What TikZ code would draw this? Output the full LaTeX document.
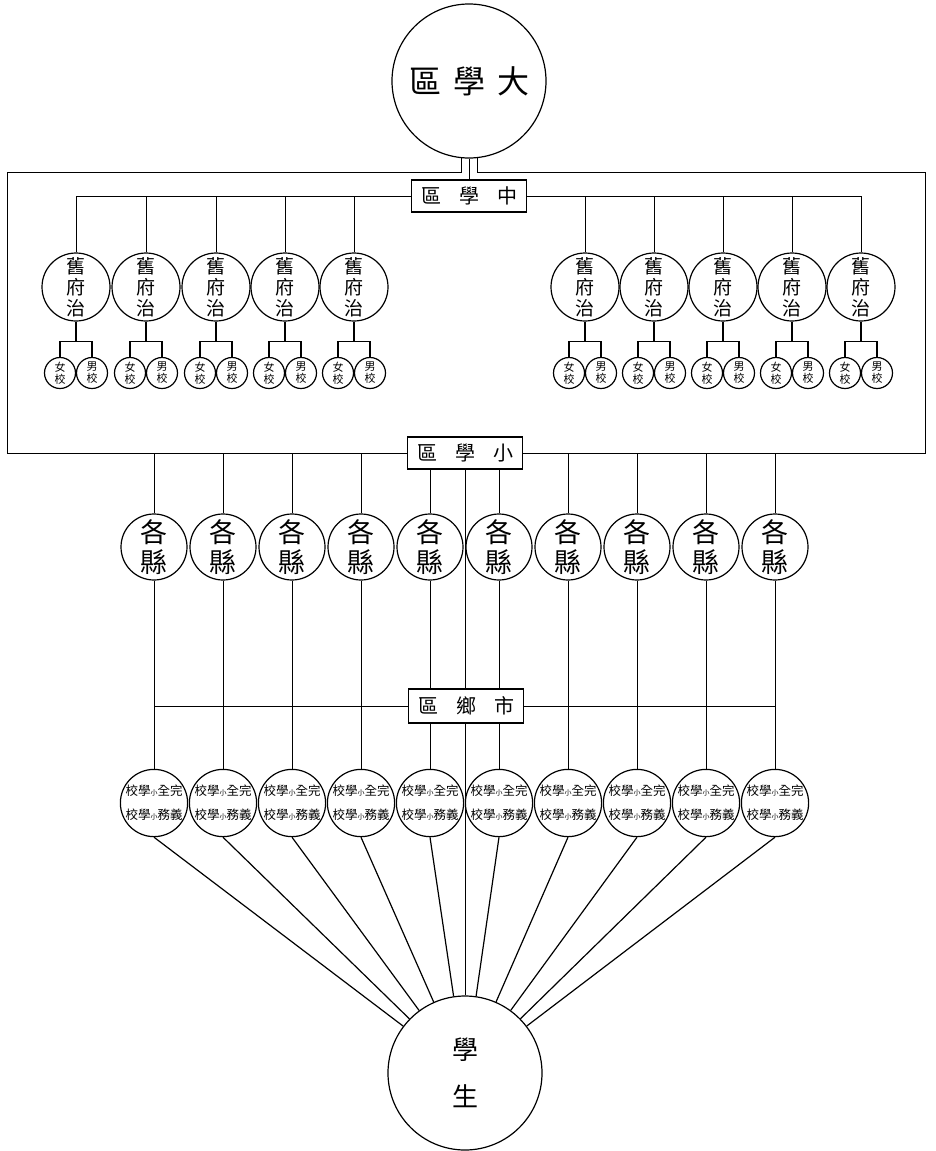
\documentclass[tikz,border=0pt]{standalone}
\usepackage{fontspec}
\setmainfont{Noto Sans CJK TC}
\usetikzlibrary{calc, backgrounds}

\newcommand{\gap}[1]{\hspace{#1pt}}
\newcommand{\smallxiao}{{\fontsize{7}{7}\selectfont 小}}

\begin{document}
\begin{tikzpicture}[x=1pt, y=-1pt, line width=1.2pt]
\useasboundingbox (0,0) rectangle (935,1151);

% node styles
\tikzset{ring/.style={circle, draw, fill=white, inner sep=0pt, align=center},
         bigring/.style={ring, minimum size=154pt},
         furing/.style={ring, minimum size=68pt, font=\fontsize{19}{21}\selectfont},
         schring/.style={ring, minimum size=31pt, font=\fontsize{11}{12}\selectfont},
         xianring/.style={ring, minimum size=66pt, font=\fontsize{27}{30}\selectfont},
         xuering/.style={ring, minimum size=66pt, font=\fontsize{12.5}{24}\selectfont},
         namebox/.style={draw, fill=white, minimum width=115pt, minimum height=32pt,
                         inner sep=0pt, font=\fontsize{20}{20}\selectfont}}

% ---- university
\node[bigring, font=\fontsize{32}{32}\selectfont] (daxue) at (469,81) {區\gap{12}學\gap{12}大};
\node[namebox] (zhong) at (469,196) {區\gap{18}學\gap{18}中};

% ===== middle schools: ten prefectures, girls' and boys' schools
\foreach \x [count=\i] in {76,146,216,285,354,585,654,723,792,861} {
  \node[furing] (fu\i) at (\x,287) {舊\\府\\治};
  \node[schring] (nv\i) at (\x-16,373) {女\\校};
  \node[schring] (nan\i) at (\x+16,373) {男\\校};
  \coordinate (fork\i) at ($(fu\i.south)+(0,20)$);
  \draw (fu\i.south) -- (fork\i);
  \draw (nv\i.north) |- (fork\i) -| (nan\i.north);
}

% ===== primary schools: counties, then town and village schools
\node[namebox] (xiao) at (465,453) {區\gap{18}學\gap{18}小};
\node[namebox, minimum height=34pt] (shi) at (466,706) {區\gap{18}鄉\gap{18}市};
\foreach \x [count=\i] in {154,223,...,775} {
  \node[xianring] (xian\i) at (\x,547) {各\\縣};
  \node[xuering] (xue\i) at (\x,803) {校學\smallxiao 全完\\校學\smallxiao 務義};
}

% ---- students
\node[bigring, font=\fontsize{26}{47}\selectfont] (student) at (465,1073) {學\\生};

% ---- connectors, under the nodes
\begin{scope}[on background layer]
  \coordinate (frameTL) at (7,172);  \coordinate (frameTR) at (925,172);
  \coordinate (frameBL) at (7,453);  \coordinate (frameBR) at (925,453);
  \draw ($(daxue.center)+(-8,0)$) |- (frameTL) -- (frameBL) -- (frameBR) -- (frameTR)
        -| ($(daxue.center)+(8,0)$);
  \draw (daxue) -- (zhong);
  \draw (fu1.north |- zhong) -- (fu10.north |- zhong);
  \foreach \i in {1,...,10} {
    \draw (fu\i) -- (fu\i |- zhong);
    \draw (xian\i) -- (xian\i |- xiao);
    \draw (xian\i) -- (xue\i);
  }
  \draw (xue1 |- shi) -- (xue10 |- shi);
  \draw (xiao) -- (student);
\end{scope}
\foreach \i in {1,...,10} {\draw (xue\i.south) -- (student);}
\end{tikzpicture}
\end{document}
